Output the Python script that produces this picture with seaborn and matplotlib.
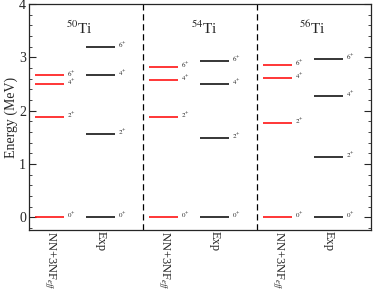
import numpy as np
import matplotlib
matplotlib.use('Agg')
import matplotlib.pyplot as plt
import seaborn as sns
from matplotlib.ticker import MultipleLocator

# Niveles de energia (MeV) para 0+, 2+, 4+, 6+
spins = ['0', '2', '4', '6']
isotopes = ['50', '54', '56']
nn3nf_50 = [0.0, 1.875, 2.50, 2.66]
exp_50 = [0.0, 1.554, 2.675, 3.199]
nn3nf_54 = [0.0, 1.875, 2.58, 2.82]
exp_54 = [0.0, 1.495, 2.497, 2.93]
nn3nf_56 = [0.0, 1.775, 2.61, 2.86]
exp_56 = [0.0, 1.129, 2.28, 2.97]
tick_labels = ['NN+3NF$_{eff}$', 'Exp']

sns.set_style('ticks')
plt.rcParams['font.family'] = ['Liberation Serif', 'DejaVu Serif']
plt.rcParams['mathtext.fontset'] = 'stix'

fig = plt.figure(figsize=(3.74, 2.89), dpi=100)
ax = fig.add_axes([0.0775, 0.204, 0.9145, 0.782])

theory = [nn3nf_50, nn3nf_54, nn3nf_56]
experiment = [exp_50, exp_54, exp_56]
label_x = [1.34, 4.62, 7.46]
half = 0.38
xticks = []
xlabels = []
for g in range(3):
    for k, (levels, color) in enumerate([(theory[g], 'red'), (experiment[g], 'black')]):
        xc = 0.55 + 3 * g + 1.33 * k
        xticks.append(xc)
        xlabels.append(tick_labels[k])
        ax.hlines(levels, xc - half, xc + half, colors=color, lw=1.1)
        for e, s in zip(levels, spins):
            ax.text(xc + half + 0.07, e + 0.03, '$%s^{+}$' % s, fontsize=5,
                    va='center', ha='left')
    ax.text(label_x[g], 3.54, '$^{%s}$Ti' % isotopes[g], fontsize=11,
            ha='center', va='center')

for xd in [3, 6]:
    ax.axvline(xd, color='black', ls=(0, (5, 3)), lw=0.9)

ax.set_xlim(0, 9)
ax.set_ylim(-0.24, 4)
ax.yaxis.set_major_locator(MultipleLocator(1))
ax.yaxis.set_minor_locator(MultipleLocator(0.2))
ax.tick_params(axis='y', which='both', direction='in', left=True, right=True,
               labelsize=10, pad=2)
ax.tick_params(axis='y', which='major', length=5, width=0.8)
ax.tick_params(axis='y', which='minor', length=2.5, width=0.6)
ax.set_xticks(xticks)
ax.set_xticklabels(xlabels, rotation=270, fontsize=9, va='top')
ax.tick_params(axis='x', length=0, pad=0.5)
ax.set_ylabel('Energy (MeV)', fontsize=10, labelpad=1)
for sp in ax.spines.values():
    sp.set_visible(True)
    sp.set_linewidth(0.9)

fig.savefig('out.png', dpi=100)
